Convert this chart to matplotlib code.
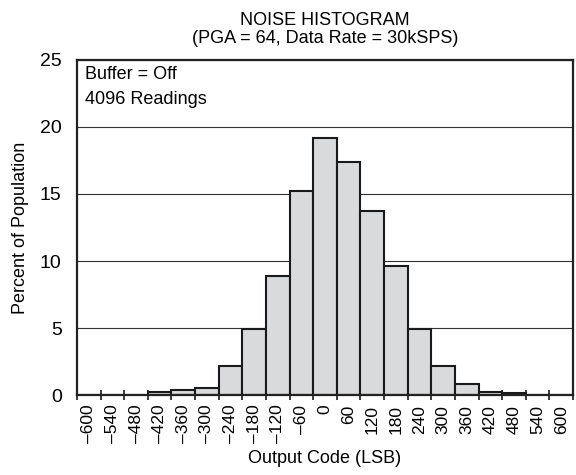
import numpy as np
import matplotlib.pyplot as plt

plt.rcParams['font.family'] = ['Liberation Sans', 'DejaVu Sans']

# output code bins (LSB) and percent of population per bin
codes = [-600, -540, -480, -420, -360, -300, -240, -180, -120, -60, 0,
         60, 120, 180, 240, 300, 360, 420, 480, 540, 600]
percent = [0, 0, 0, 0.2, 0.35, 0.55, 2.2, 4.95, 8.9, 15.2, 19.15,
           17.4, 13.75, 9.6, 4.95, 2.15, 0.85, 0.25, 0.15, 0, 0]
tick_labels = [str(c).replace('-', '\u2013') for c in codes]

fig = plt.figure(figsize=(5.76, 4.75), dpi=100)
ax = fig.add_axes([0.1337, 0.1684, 0.8611, 0.7053])

x = np.arange(len(codes))
ax.bar(x, percent, width=1.0, color='#d9dadc', edgecolor='#1a1a1a',
       linewidth=1.5, zorder=2)

ax.set_xlim(-0.5, len(codes) - 0.5)
ax.set_ylim(0, 25)
ax.set_yticks([0, 5, 10, 15, 20, 25])
ax.yaxis.grid(True, color='#333333', linewidth=0.8)
ax.set_axisbelow(True)

# labels in the bin centres, tick marks on the bin edges
ax.set_xticks(x)
ax.set_xticklabels(tick_labels, rotation=90)
ax.set_xticks(np.arange(len(codes) + 1) - 0.5, minor=True)
ax.tick_params(axis='x', which='major', length=0, pad=7, labelsize=12.5)
ax.tick_params(axis='x', which='minor', direction='inout', length=7,
               width=1.2, color='#1a1a1a')
ax.tick_params(axis='y', length=0, pad=11, labelsize=14)

for s in ax.spines.values():
    s.set_linewidth(1.6)
    s.set_color('#222222')

ax.set_xlabel('Output Code (LSB)', fontsize=13, labelpad=5)
ax.set_ylabel('Percent of Population', fontsize=13, labelpad=8)
ax.set_title('NOISE HISTOGRAM\n(PGA = 64, Data Rate = 30kSPS)', fontsize=13,
             linespacing=1.1, pad=12)

ax.text(0.017, 0.958, 'Buffer = Off', transform=ax.transAxes, fontsize=13,
        va='center', ha='left')
ax.text(0.017, 0.881, '4096 Readings', transform=ax.transAxes, fontsize=13,
        va='center', ha='left')

fig.savefig('out.png', dpi=100)
